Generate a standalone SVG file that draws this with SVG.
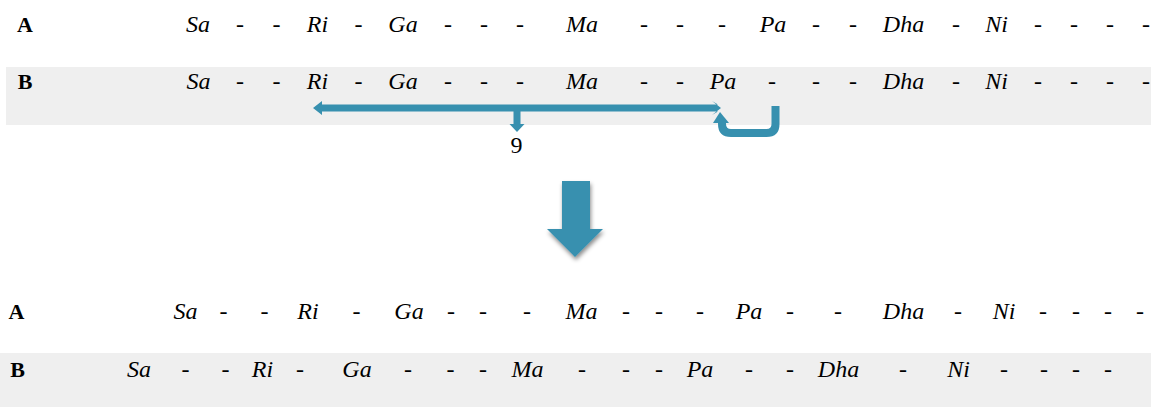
<svg xmlns="http://www.w3.org/2000/svg" width="1151" height="407" viewBox="0 0 1151 407">
<style>
text{font-family:"Liberation Serif","Times New Roman",serif;font-size:24px;fill:#000;text-anchor:middle}
.lbl{font-weight:bold;font-size:22px}
.n{font-style:italic}
.band{fill:#efefef}
.arrow{fill:#3790af}
.hook{fill:none;stroke:#3790af;stroke-width:8}
</style>
<defs>
<filter id="shadow" x="-30%" y="-20%" width="160%" height="150%">
<feDropShadow dx="1" dy="3" stdDeviation="2" flood-color="#000" flood-opacity="0.45"/>
</filter>
</defs>
<rect class="band" x="6" y="67" width="1145" height="58"/>
<rect class="band" x="0" y="353" width="1151" height="54"/>

<g id="top-A">
<text class="lbl" x="25" y="32">A</text>
<text class="n" y="32"><tspan x="198">Sa</tspan><tspan x="240">-</tspan><tspan x="276.5">-</tspan><tspan x="317.5">Ri</tspan><tspan x="358.5">-</tspan><tspan x="403">Ga</tspan><tspan x="448">-</tspan><tspan x="484">-</tspan><tspan x="520">-</tspan><tspan x="582">Ma</tspan><tspan x="644">-</tspan><tspan x="680">-</tspan><tspan x="722">-</tspan><tspan x="773">Pa</tspan><tspan x="816">-</tspan><tspan x="853">-</tspan><tspan x="903.5">Dha</tspan><tspan x="956">-</tspan><tspan x="996.5">Ni</tspan><tspan x="1038">-</tspan><tspan x="1074">-</tspan><tspan x="1110">-</tspan><tspan x="1146">-</tspan></text>
</g>

<g id="top-B">
<text class="lbl" x="25" y="89">B</text>
<text class="n" y="89"><tspan x="198.5">Sa</tspan><tspan x="240">-</tspan><tspan x="276.5">-</tspan><tspan x="317.5">Ri</tspan><tspan x="358.5">-</tspan><tspan x="403">Ga</tspan><tspan x="448">-</tspan><tspan x="484">-</tspan><tspan x="520">-</tspan><tspan x="582">Ma</tspan><tspan x="644">-</tspan><tspan x="680">-</tspan><tspan x="723">Pa</tspan><tspan x="772">-</tspan><tspan x="816">-</tspan><tspan x="853">-</tspan><tspan x="903.5">Dha</tspan><tspan x="956">-</tspan><tspan x="996.5">Ni</tspan><tspan x="1038">-</tspan><tspan x="1074">-</tspan><tspan x="1110">-</tspan><tspan x="1146">-</tspan></text>
</g>

<g id="connectors">
<path class="arrow" d="M313 108 L322 101 L322 104.5 L718 104.5 L712 101 L721 108 L712 115 L718 111.5 L520.5 111.5 L520.5 124 L524.5 124 L517 132 L509.5 124 L513.5 124 L513.5 111.5 L322 111.5 L322 115 Z"/>
<path class="hook" d="M775.5 106 V124 Q775.5 133 766.5 133 H731 Q722 133 722 124 V121"/>
<polygon class="arrow" points="720,112 713,123 729,123"/>
<text x="516.5" y="153">9</text>
<polygon class="arrow" filter="url(#shadow)" points="562,181 590,181 590,229 603,229 575,257 547,229 562,229"/>
</g>

<g id="bottom-A">
<text class="lbl" x="16.5" y="319">A</text>
<text class="n" y="319"><tspan x="185.5">Sa</tspan><tspan x="223.5">-</tspan><tspan x="264.5">-</tspan><tspan x="308">Ri</tspan><tspan x="356.5">-</tspan><tspan x="409">Ga</tspan><tspan x="451">-</tspan><tspan x="483">-</tspan><tspan x="527">-</tspan><tspan x="581.5">Ma</tspan><tspan x="626">-</tspan><tspan x="659">-</tspan><tspan x="700">-</tspan><tspan x="749">Pa</tspan><tspan x="790">-</tspan><tspan x="838">-</tspan><tspan x="903.5">Dha</tspan><tspan x="958">-</tspan><tspan x="1004">Ni</tspan><tspan x="1043">-</tspan><tspan x="1076">-</tspan><tspan x="1108">-</tspan><tspan x="1140">-</tspan></text>
</g>

<g id="bottom-B">
<text class="lbl" x="17.5" y="377">B</text>
<text class="n" y="377"><tspan x="139">Sa</tspan><tspan x="185.5">-</tspan><tspan x="225.5">-</tspan><tspan x="262.5">Ri</tspan><tspan x="300">-</tspan><tspan x="357">Ga</tspan><tspan x="408">-</tspan><tspan x="450.5">-</tspan><tspan x="483">-</tspan><tspan x="527.5">Ma</tspan><tspan x="582">-</tspan><tspan x="626">-</tspan><tspan x="659">-</tspan><tspan x="700">Pa</tspan><tspan x="749">-</tspan><tspan x="790">-</tspan><tspan x="838.5">Dha</tspan><tspan x="903">-</tspan><tspan x="958.5">Ni</tspan><tspan x="1004">-</tspan><tspan x="1044">-</tspan><tspan x="1076">-</tspan><tspan x="1108">-</tspan></text>
</g>
</svg>
